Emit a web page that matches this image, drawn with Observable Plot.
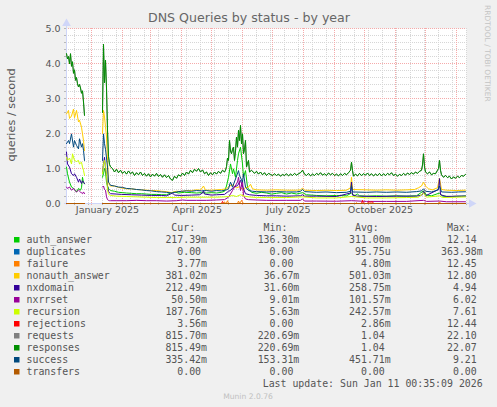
<!DOCTYPE html>
<html><head><meta charset="utf-8">
<script src="https://cdn.jsdelivr.net/npm/d3@7"></script>
<script src="https://cdn.jsdelivr.net/npm/@observablehq/plot@0.6"></script>
<style>
html,body{margin:0;padding:0;background:#f0f0f0;}
#wrap{position:relative;width:497px;height:407px;background:#f0f0f0;overflow:hidden;font-family:"DejaVu Sans",sans-serif;}
#wrap svg{position:absolute;left:0;}
</style></head><body><div id="wrap"></div>
<script>
// ---- time frame: Munin "by year" = last 400 days ----
const START = Date.UTC(2024, 11, 7, 0, 35, 9);
const DAY = 864e5;
const END = START + 400 * DAY;

// ---- legend table ----
const seriesNames = ["auth_answer","duplicates","failure","nonauth_answer","nxdomain","nxrrset","recursion","rejections","requests","responses","success","transfers"];
const seriesColors = ["#00cc00","#0066b3","#ff8000","#ffcc00","#330099","#990099","#ccff00","#ff0000","#808080","#008f00","#00487d","#b35a00"];
const curValues = ["217.39m","0.00","3.77m","381.02m","212.49m","50.50m","187.76m","3.56m","815.70m","815.49m","335.42m","0.00"];
const minValues = ["136.30m","0.00","0.00","36.67m","31.60m","9.01m","5.63m","0.00","220.69m","220.69m","153.31m","0.00"];
const avgValues = ["311.00m","95.75u","4.80m","501.03m","258.75m","101.57m","242.57m","2.86m","1.04","1.04","451.71m","0.00"];
const maxValues = ["12.14","363.98m","12.45","12.80","4.94","6.02","7.61","12.44","22.10","22.07","9.21","0.00"];
const columnHeaders = ["Cur:","Min:","Avg:","Max:"];

// ---- axes ----
const yTicks = [0, 1, 2, 3, 4, 5];
const xTickLabels = ["January 2025","April 2025","July 2025","October 2025"];
const xTickDates = ["2025-01-17","2025-04-17","2025-07-17","2025-10-17"];

// ---- series: [days since start, queries/second]; null = no data ----
const auth_answer = [[0,1.04],[1,0.85],[3,0.61],[5,0.47],[7,0.43],[9,0.38],[10,0.33],[12,0.43],[14,0.38],[15,0.45],[16,0.75],[17,0.6],[18,0.56],[27,null],
 [36,0.75],[37,0.85],[38,1.0],[39,0.9],[40,0.61],[41,0.5],[42,0.43],[43,0.4],[44,0.37],[48,0.35],[52,0.32],[56,0.31],[60,0.3],[65,0.29],[70,0.28],[75,0.28],[80,0.27],[85,0.26],[90,0.26],[95,0.25],[100,0.25],[104,0.3],[108,0.33],[112,0.3],[118,0.32],[125,0.31],[130,0.3],[135,0.31],[140,0.3],[145,0.31],[150,0.3],[155,0.32],[158,0.35],
 [160,0.5],[162,0.75],[164,1.13],[166,0.85],[167,0.99],[169,0.75],[171,1.23],[172,1.42],[174,1.61],[176,1.13],[177,0.75],[179,0.94],[181,0.47],[182,0.42],[185,0.32],[190,0.29],[195,0.32],[200,0.3],[205,0.27],[210,0.29],[215,0.31],[220,0.27],[225,0.3],[230,0.27],[236,0.31],[240,0.25],[250,0.23],[260,0.22],[270,0.23],[280,0.22],[285,0.3],[288,0.22],[291,0.27],[293,0.22],[300,0.21],[310,0.22],[320,0.21],[330,0.22],[340,0.21],[350,0.22],[357,0.36],[360,0.24],[365,0.22],[373,0.3],[376,0.21],[385,0.2],[395,0.21],[399,0.217]];
const duplicates = [[0,0],[18,0],[27,null],[36,0],[399,0]];
const failure = [[0,0],[18,0],[27,null],[36,0],[157,0],[158,0.05],[159,0],[160,0.02],[161,0.08],[162,0],[171,0],[172,0.07],[173,0.01],[174,0.03],[175,0.09],[176,0.04],[177,0],[289,0],[290,0.02],[291,0],[372,0],[373,0.05],[374,0],[399,0]];
const nonauth_answer = [[0,2.56],[2,2.66],[3,2.43],[5,2.5],[7,2.7],[8,2.45],[10,2.66],[12,2.33],[13,2.38],[15,2.18],[16,1.99],[17,1.8],[18,1.51],[27,null],
 [36,2.0],[37,2.66],[38,2.47],[39,2.2],[40,1.9],[41,1.23],[42,0.61],[43,0.52],[44,0.5],[48,0.5],[52,0.46],[56,0.44],[60,0.42],[65,0.42],[70,0.4],[75,0.39],[80,0.38],[85,0.37],[90,0.37],[95,0.35],[100,0.34],[105,0.31],[110,0.35],[115,0.34],[120,0.37],[125,0.37],[130,0.39],[134,0.38],[137,0.5],[139,0.38],[145,0.38],[150,0.39],[155,0.4],[160,0.42],
 [163,0.5],[166,0.53],[170,0.45],[173,0.48],[176,0.4],[179,0.45],[182,0.47],[184,0.55],[186,0.42],[190,0.39],[200,0.38],[210,0.39],[220,0.38],[230,0.38],[234,0.39],[236,0.44],[238,0.38],[250,0.37],[260,0.38],[270,0.37],[280,0.38],[284,0.45],[285,0.75],[286,0.4],[300,0.39],[310,0.38],[320,0.39],[330,0.38],[340,0.39],[348,0.4],[352,0.45],[355,0.5],[357,0.61],[359,0.5],[362,0.42],[366,0.39],[371,0.45],[373,0.72],[375,0.4],[380,0.38],[390,0.37],[399,0.381]];
const nxdomain = [[0,1.47],[1,1.13],[3,1.04],[5,0.85],[7,0.8],[8,0.85],[10,0.75],[12,0.61],[13,0.7],[15,0.57],[16,0.65],[17,0.61],[18,0.57],[27,null],
 [36,0.9],[37,1.13],[38,1.32],[39,1.0],[40,0.8],[41,0.5],[42,0.35],[43,0.3],[44,0.28],[50,0.27],[55,0.26],[65,0.25],[75,0.24],[85,0.23],[95,0.23],[100,0.22],[104,0.27],[106,0.3],[108,0.24],[115,0.23],[125,0.24],[133,0.25],[136,0.3],[137,0.37],[138,0.27],[145,0.24],[150,0.25],[158,0.26],
 [162,0.35],[164,0.37],[167,0.47],[171,0.51],[174,0.66],[177,0.42],[179,0.28],[183,0.25],[190,0.23],[200,0.22],[210,0.22],[220,0.21],[234,0.22],[236,0.25],[238,0.21],[250,0.21],[270,0.2],[284,0.3],[285,0.61],[286,0.24],[290,0.21],[310,0.2],[330,0.21],[350,0.21],[356,0.25],[357,0.35],[359,0.22],[372,0.4],[373,0.71],[374,0.25],[380,0.2],[390,0.21],[399,0.212]];
const nxrrset = [[0,0.47],[1,0.43],[3,0.47],[5,0.38],[7,0.43],[8,0.38],[10,0.33],[12,0.38],[14,0.33],[15,0.3],[16,0.28],[17,0.33],[18,0.28],[27,null],
 [36,0.47],[37,0.5],[38,0.4],[39,0.38],[40,0.19],[41,0.11],[42,0.09],[43,0.08],[44,0.08],[50,0.08],[60,0.08],[70,0.09],[80,0.08],[90,0.08],[100,0.07],[110,0.08],[116,0.1],[120,0.09],[130,0.09],[140,0.09],[150,0.1],[158,0.11],
 [162,0.18],[166,0.37],[168,0.47],[171,0.61],[172,0.75],[174,0.37],[176,0.66],[177,0.23],[179,0.13],[182,0.11],[190,0.1],[200,0.09],[220,0.09],[234,0.09],[236,0.13],[238,0.07],[250,0.07],[270,0.065],[285,0.08],[300,0.06],[320,0.06],[340,0.06],[357,0.09],[360,0.06],[373,0.07],[380,0.05],[399,0.05]];
const recursion = [[0,1.32],[1,1.23],[3,1.3],[5,1.13],[6,1.42],[8,1.23],[10,1.2],[12,1.23],[13,1.13],[15,1.18],[16,1.04],[17,0.95],[18,0.8],[27,null],
 [36,0.85],[37,1.13],[38,1.23],[39,1.1],[40,0.8],[41,0.38],[42,0.28],[43,0.24],[44,0.23],[50,0.21],[60,0.2],[70,0.19],[80,0.18],[90,0.17],[100,0.17],[110,0.17],[120,0.18],[130,0.18],[140,0.18],[150,0.18],[158,0.19],
 [162,0.2],[166,0.23],[170,0.2],[174,0.25],[178,0.21],[182,0.19],[190,0.17],[200,0.17],[220,0.17],[236,0.19],[250,0.16],[270,0.16],[285,0.2],[300,0.16],[320,0.16],[340,0.17],[352,0.18],[357,0.3],[360,0.18],[373,0.22],[376,0.17],[390,0.18],[399,0.188]];
const rejections = [[0,0],[18,0],[27,null],[36,0],[155,0],[156,0.06],[157,0],[295,0],[296,0.09],[297,0],[301,0],[302,0.05],[304,0.04],[306,0.05],[307,0],[399,0]];
const responses = [[0,4.28],[1,4.13],[2,4.2],[3,3.99],[4,4.28],[5,3.92],[6,4.05],[7,3.72],[8,3.82],[9,3.52],[10,3.6],[11,3.42],[12,3.33],[13,3.4],[14,3.3],[15,3.15],[16,3.22],[17,2.9],[18,2.52],[27,null],
 [36,2.6],[37,4.55],[38,3.45],[39,4.1],[40,3.3],[41,2.1],[42,1.35],[43,1.12],[44,1.05],[46,1.0],[48,0.9],[50,0.98],[52,0.88],[54,0.95],[56,0.86],[58,0.92],[60,0.84],[62,0.93],[64,0.85],[66,0.9],[68,0.8],[70,0.88],[72,0.82],[74,0.9],[76,0.8],[78,0.86],[80,0.78],[82,0.85],[84,0.76],[86,0.84],[88,0.78],[90,0.86],[92,0.77],[94,0.83],[96,0.75],[98,0.82],[100,0.74],[102,0.8],[104,0.7],[106,0.66],[108,0.78],[110,0.72],[112,0.82],[114,0.78],[116,0.87],[118,0.8],[120,0.9],[122,0.84],[124,0.95],[126,0.88],[128,0.98],[130,0.92],[132,1.0],[134,0.9],[136,0.96],[138,0.85],[140,0.9],[142,0.8],[144,0.88],[146,0.82],[148,0.9],[150,0.84],[152,0.92],[154,0.86],[156,0.95],[158,0.9],
 [159,0.95],[160,1.05],[161,1.3],[162,1.23],[163,1.8],[164,1.5],[165,1.42],[166,1.55],[167,1.61],[168,1.23],[169,1.5],[170,1.9],[171,1.61],[172,2.09],[173,1.8],[174,2.23],[175,1.7],[176,1.99],[177,1.42],[178,1.55],[179,1.8],[180,1.04],[181,1.15],[182,1.23],[183,0.9],[185,0.95],
 [188,0.86],[190,0.92],[192,0.84],[194,0.9],[196,0.82],[198,0.88],[200,0.8],[202,0.86],[204,0.83],[206,0.8],[208,0.85],[210,0.8],[212,0.84],[214,0.78],[216,0.83],[218,0.8],[220,0.85],[222,0.79],[224,0.84],[226,0.8],[228,0.86],[230,0.81],[232,0.85],[234,0.88],[236,0.95],[238,0.84],[240,0.8],[242,0.86],[244,0.79],[246,0.84],[248,0.8],[250,0.86],[252,0.82],[254,0.88],[256,0.81],[258,0.85],[260,0.8],[262,0.87],[264,0.82],[266,0.86],[268,0.8],[270,0.84],[272,0.79],[274,0.85],[276,0.8],[278,0.86],[280,0.82],[282,0.88],[284,0.95],[285,1.18],[286,0.94],[287,0.78],[289,0.84],[291,0.79],[293,0.86],[295,0.8],[297,0.85],[299,0.81],[301,0.87],[303,0.8],[305,0.85],[307,0.79],[309,0.84],[311,0.8],[313,0.86],[315,0.79],[317,0.85],[319,0.8],[321,0.86],[323,0.82],[325,0.88],[327,0.8],[329,0.84],[331,0.78],[333,0.83],[335,0.8],[337,0.86],[339,0.81],[341,0.87],[343,0.83],[345,0.88],[347,0.84],[349,0.9],[351,0.86],[353,0.92],[355,0.95],[356,1.1],[357,1.42],[358,1.05],[359,0.9],[361,0.85],[363,0.9],[365,0.82],[367,0.86],[369,0.85],[371,0.95],[372,1.0],[373,1.23],[374,0.95],[375,0.82],[377,0.75],[379,0.8],[381,0.74],[383,0.78],[385,0.7],[387,0.76],[389,0.72],[391,0.78],[393,0.74],[395,0.8],[397,0.78],[399,0.83]];
const requests = responses; // requests lies exactly under responses in the picture
const success = [[0,1.71],[2,1.8],[3,1.71],[5,1.99],[7,1.61],[8,1.8],[10,1.66],[12,1.56],[13,1.85],[15,1.61],[16,1.71],[17,1.52],[18,1.23],[27,null],
 [36,1.23],[37,1.99],[38,1.71],[39,1.55],[40,1.3],[41,1.04],[42,0.61],[43,0.57],[44,0.52],[48,0.5],[52,0.47],[56,0.46],[60,0.43],[65,0.42],[70,0.4],[75,0.39],[80,0.37],[85,0.36],[90,0.34],[95,0.33],[100,0.32],[105,0.3],[110,0.33],[115,0.35],[120,0.36],[125,0.35],[130,0.37],[135,0.36],[140,0.37],[145,0.35],[150,0.37],[155,0.36],[160,0.39],
 [162,0.42],[164,0.61],[166,0.47],[169,0.7],[172,0.94],[173,0.8],[176,0.61],[177,0.85],[179,0.47],[182,0.37],[186,0.35],[190,0.34],[200,0.33],[210,0.34],[220,0.33],[230,0.33],[234,0.35],[236,0.4],[238,0.34],[250,0.32],[260,0.33],[270,0.31],[280,0.32],[284,0.35],[285,0.51],[286,0.33],[300,0.32],[310,0.33],[320,0.32],[330,0.33],[340,0.32],[350,0.34],[355,0.36],[357,0.42],[359,0.35],[365,0.33],[371,0.38],[373,0.5],[375,0.33],[385,0.32],[392,0.33],[399,0.335]];
const transfers = [[0,0],[18,0],[27,null],[36,0],[399,0]];

const seriesData = [auth_answer, duplicates, failure, nonauth_answer, nxdomain, nxrrset, recursion, rejections, requests, responses, success, transfers];

// ---- build ----
const toDate = d => new Date(START + d * DAY);
const rows = seriesData.map(s => s.map(([d, v]) => ({date: toDate(d), value: v})));

const minorX = d3.range(Date.UTC(2024, 11, 15), END, 14 * DAY).map(t => new Date(t));
const majorX = d3.utcMonth.range(new Date(START), new Date(END));
const minorY = d3.range(0, 26).map(i => i * 0.2);

const GRID = "#d6d6d6", MGRID = "#f5aaaa", AXIS = "#cfd6f8", FONT = "#555555";
const crisp = {shapeRendering: "crispEdges"};

const plot = Plot.plot({
  width: 497, height: 220,
  marginLeft: 66, marginRight: 31, marginTop: 28, marginBottom: 17,
  x: {type: "utc", domain: [new Date(START), new Date(END)], axis: null},
  y: {domain: [0, 5], axis: null},
  style: {background: "transparent", overflow: "visible", fontFamily: "DejaVu Sans, sans-serif"},
  marks: [
    Plot.frame({fill: "#ffffff", stroke: null}),
    Plot.ruleY(minorY, {stroke: GRID, strokeDasharray: "1,1", ...crisp}),
    Plot.ruleX(minorX, {stroke: GRID, strokeDasharray: "1,1", ...crisp}),
    Plot.ruleY(yTicks, {stroke: MGRID, strokeDasharray: "1,1", ...crisp}),
    Plot.ruleX(majorX, {stroke: MGRID, strokeDasharray: "1,1", ...crisp}),
    // small tick marks outside the canvas
    Plot.ruleX(minorX, {y1: 0, y2: -0.06, stroke: "#b8b8b8", ...crisp}),
    Plot.ruleX(majorX, {y1: 0, y2: -0.06, stroke: MGRID, ...crisp}),
    Plot.ruleY(minorY, {x1: new Date(START - 2 * DAY), x2: new Date(START), stroke: "#b8b8b8", ...crisp}),
    // axes with arrows
    Plot.ruleX([new Date(START)], {y1: -0.06, y2: 5.1, stroke: AXIS, ...crisp}),
    Plot.ruleY([0], {x1: new Date(START - 2 * DAY), x2: new Date(END + 4 * DAY), stroke: AXIS, ...crisp}),
    Plot.dot([{x: new Date(START), y: 5.14}], {x: "x", y: "y", symbol: "triangle", r: 3.2, fill: AXIS, stroke: null}),
    Plot.dot([{x: new Date(END + 5 * DAY), y: 0}], {x: "x", y: "y", symbol: "triangle", r: 3.2, fill: AXIS, stroke: null, rotate: 90}),
    // data lines, in Munin draw order
    ...rows.map((r, i) => Plot.line(r, {x: "date", y: "value", stroke: seriesColors[i], strokeWidth: 1})),
    // tick labels
    Plot.text(yTicks, {y: d => d, frameAnchor: "left", textAnchor: "end", dx: -6, text: d => d.toFixed(1), fontSize: 9.5, fill: FONT}),
    Plot.text(xTickDates.map((d, i) => ({date: new Date(d), label: xTickLabels[i]})),
      {x: "date", frameAnchor: "bottom", text: "label", dy: 9, fontSize: 9.5, fill: FONT})
  ]
});
const wrap = document.getElementById("wrap");
plot.style.top = "0px";
wrap.appendChild(plot);

// ---- title, vertical label, watermark ----
const deco = d3.create("svg").attr("width", 497).attr("height", 220).style("top", "0px")
  .attr("font-family", "DejaVu Sans, sans-serif");
deco.append("text").attr("x", 249).attr("y", 22).attr("text-anchor", "middle")
  .attr("font-size", 12.6).attr("fill", "#666").text("DNS Queries by status - by year");
deco.append("text").attr("transform", "translate(15,115) rotate(-90)").attr("text-anchor", "middle")
  .attr("font-size", 11.3).attr("fill", FONT).text("queries / second");
deco.append("text").attr("transform", "translate(484.5,5) rotate(90)").attr("text-anchor", "start")
  .attr("font-size", 7.5).attr("fill", "#c4c4c4").text("RRDTOOL / TOBI OETIKER");
wrap.appendChild(deco.node());

// ---- legend below the chart ----
const TOP = 220;
const leg = d3.create("svg").attr("width", 497).attr("height", 407 - TOP).style("top", TOP + "px")
  .attr("font-family", "DejaVu Sans Mono, monospace").attr("font-size", 9.9).attr("fill", FONT);
const colEnds = [207, 299.3, 390.7, 482.7];
const charW = 5.96;
columnHeaders.forEach((h, j) => leg.append("text").attr("x", colEnds[j] - 2 * charW).attr("y", 231 - TOP)
  .attr("text-anchor", "end").text(h));
const cols = [curValues, minValues, avgValues, maxValues];
seriesNames.forEach((n, i) => {
  const base = 243 + 12 * i - TOP;
  leg.append("rect").attr("x", 14).attr("y", base - 6).attr("width", 5.5).attr("height", 5.5).attr("fill", seriesColors[i]);
  leg.append("text").attr("x", 26.5).attr("y", base).text(n);
  cols.forEach((c, j) => {
    const v = c[i];
    const hasSuffix = /[a-z]$/i.test(v);
    leg.append("text").attr("x", colEnds[j] - (hasSuffix ? 0 : charW)).attr("y", base)
      .attr("text-anchor", "end").text(v);
  });
});
leg.append("text").attr("x", 482.7).attr("y", 387 - TOP).attr("text-anchor", "end")
  .text("Last update: Sun Jan 11 00:35:09 2026");
leg.append("text").attr("x", 248).attr("y", 399 - TOP).attr("text-anchor", "middle")
  .attr("font-family", "DejaVu Sans, sans-serif").attr("font-size", 7.6).attr("fill", "#c0c0c0").text("Munin 2.0.76");
wrap.appendChild(leg.node());
</script></body></html>
